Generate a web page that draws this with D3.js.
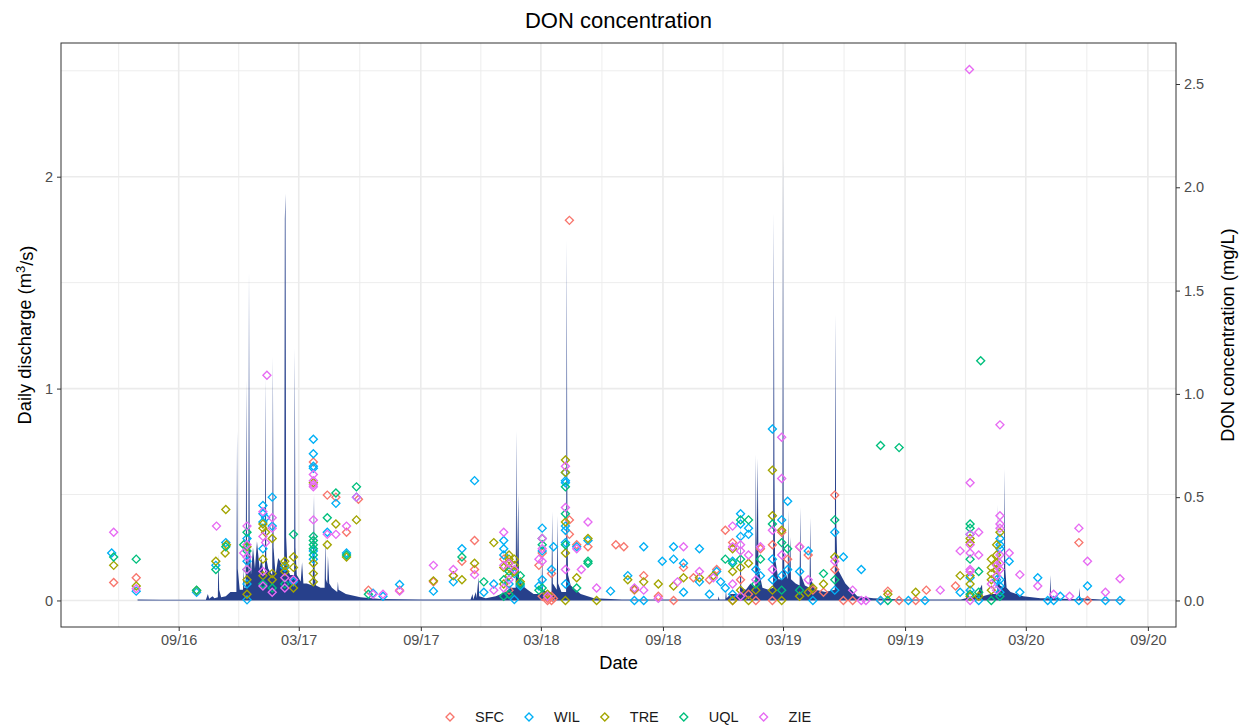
<!DOCTYPE html>
<html>
<head>
<meta charset="utf-8">
<script src="https://cdn.jsdelivr.net/npm/d3@7"></script>
<style>
body { margin: 0; background: #fff; font-family: "Liberation Sans", Arial, Helvetica, sans-serif; }
</style>
</head>
<body>
<div id="chart"></div>
<script>
// daily discharge (m3/s) at its turning points
var discharge = [
  ["2016-07-01", 0.004], ["2016-08-05", 0.003], ["2016-10-12", 0.003], ["2016-10-15", 0.03], ["2016-10-17", 0.008],
  ["2016-10-22", 0.02], ["2016-10-25", 0.01], ["2016-10-30", 0.015], ["2016-10-31", 0.22], ["2016-11-01", 0.05],
  ["2016-11-04", 0.015], ["2016-11-11", 0.02], ["2016-11-18", 0.04], ["2016-11-27", 0.04], ["2016-11-28", 0.80],
  ["2016-11-29", 0.15], ["2016-12-02", 0.05], ["2016-12-07", 0.05], ["2016-12-08", 0.15], ["2016-12-09", 0.06],
  ["2016-12-11", 0.06], ["2016-12-12", 1.04], ["2016-12-13", 0.25], ["2016-12-15", 0.12], ["2016-12-16", 1.55],
  ["2016-12-17", 0.30], ["2016-12-19", 0.12], ["2016-12-22", 0.25], ["2016-12-25", 0.15], ["2016-12-28", 0.28],
  ["2017-01-01", 0.15], ["2017-01-04", 0.20], ["2017-01-07", 0.12], ["2017-01-09", 0.12], ["2017-01-10", 1.05],
  ["2017-01-11", 0.20], ["2017-01-14", 0.15], ["2017-01-20", 0.12], ["2017-01-21", 1.15], ["2017-01-22", 0.25],
  ["2017-01-25", 0.12], ["2017-01-29", 0.20], ["2017-02-07", 0.15], ["2017-02-08", 1.80], ["2017-02-09", 1.92],
  ["2017-02-10", 0.30], ["2017-02-12", 0.15], ["2017-02-16", 0.12], ["2017-02-22", 0.12], ["2017-02-23", 1.19],
  ["2017-02-24", 0.25], ["2017-02-26", 0.12], ["2017-03-04", 0.09], ["2017-03-06", 0.18], ["2017-03-08", 0.08],
  ["2017-03-13", 0.08], ["2017-03-22", 0.07], ["2017-03-24", 0.50], ["2017-03-25", 0.12], ["2017-03-27", 0.07],
  ["2017-04-03", 0.06], ["2017-04-09", 0.06], ["2017-04-10", 0.30], ["2017-04-11", 0.10], ["2017-04-13", 0.08],
  ["2017-04-14", 0.21], ["2017-04-16", 0.08], ["2017-04-20", 0.06], ["2017-04-28", 0.04], ["2017-04-29", 0.09],
  ["2017-04-30", 0.05], ["2017-05-11", 0.03], ["2017-06-02", 0.015], ["2017-07-02", 0.007], ["2017-09-01", 0.004],
  ["2017-11-15", 0.004], ["2017-11-18", 0.03], ["2017-11-19", 0.005], ["2017-11-23", 0.04], ["2017-11-24", 0.01],
  ["2017-11-27", 0.11], ["2017-11-28", 0.02], ["2017-12-08", 0.01], ["2017-12-23", 0.02], ["2018-01-07", 0.04],
  ["2018-01-14", 0.06], ["2018-01-22", 0.06], ["2018-01-23", 0.80], ["2018-01-24", 0.15], ["2018-01-26", 0.50],
  ["2018-01-27", 0.10], ["2018-02-01", 0.07], ["2018-02-09", 0.05], ["2018-02-18", 0.03], ["2018-03-02", 0.03],
  ["2018-03-03", 0.22], ["2018-03-04", 0.05], ["2018-03-10", 0.04], ["2018-03-17", 0.04], ["2018-03-18", 0.42],
  ["2018-03-19", 0.08], ["2018-03-25", 0.05], ["2018-03-26", 0.40], ["2018-03-27", 0.08], ["2018-04-01", 0.04],
  ["2018-04-08", 0.04], ["2018-04-09", 1.70], ["2018-04-10", 0.30], ["2018-04-11", 0.12], ["2018-04-15", 0.07],
  ["2018-04-30", 0.03], ["2018-05-20", 0.01], ["2018-07-01", 0.005], ["2018-10-28", 0.004], ["2018-11-23", 0.004],
  ["2018-11-24", 0.02], ["2018-11-25", 0.005], ["2018-12-04", 0.005], ["2018-12-05", 0.05], ["2018-12-06", 0.01],
  ["2018-12-12", 0.03], ["2018-12-26", 0.03], ["2018-12-27", 0.35], ["2018-12-28", 0.06], ["2019-01-04", 0.05],
  ["2019-01-11", 0.08], ["2019-01-18", 0.06], ["2019-01-19", 0.69], ["2019-01-20", 0.20], ["2019-01-22", 0.67],
  ["2019-01-23", 0.15], ["2019-01-29", 0.06], ["2019-02-07", 0.05], ["2019-02-14", 0.06], ["2019-02-15", 1.83],
  ["2019-02-16", 0.66], ["2019-02-17", 0.20], ["2019-02-22", 0.10], ["2019-02-28", 0.10], ["2019-03-01", 2.09],
  ["2019-03-02", 0.30], ["2019-03-03", 0.15], ["2019-03-08", 0.10], ["2019-03-09", 0.43], ["2019-03-10", 0.12],
  ["2019-03-12", 0.30], ["2019-03-13", 0.10], ["2019-03-20", 0.08], ["2019-03-26", 0.07], ["2019-03-27", 0.44],
  ["2019-03-28", 0.12], ["2019-04-03", 0.07], ["2019-04-10", 0.06], ["2019-04-11", 0.39], ["2019-04-12", 0.10],
  ["2019-04-19", 0.05], ["2019-05-04", 0.04], ["2019-05-18", 0.05], ["2019-05-19", 1.35], ["2019-05-20", 0.40],
  ["2019-05-22", 0.15], ["2019-06-03", 0.08], ["2019-06-21", 0.02], ["2019-07-15", 0.01], ["2019-08-30", 0.005],
  ["2019-11-24", 0.004], ["2019-12-02", 0.01], ["2019-12-05", 0.06], ["2019-12-06", 0.01], ["2019-12-17", 0.02],
  ["2019-12-26", 0.075], ["2019-12-27", 0.02], ["2020-01-08", 0.03], ["2020-01-18", 0.03], ["2020-01-19", 0.45],
  ["2020-01-20", 0.10], ["2020-01-22", 0.07], ["2020-01-28", 0.06], ["2020-01-29", 0.62], ["2020-01-30", 0.15],
  ["2020-02-01", 0.06], ["2020-02-07", 0.04], ["2020-02-26", 0.02], ["2020-03-23", 0.01], ["2020-04-06", 0.01],
  ["2020-04-07", 0.12], ["2020-04-08", 0.02], ["2020-04-22", 0.008], ["2020-05-20", 0.006], ["2020-05-21", 0.06],
  ["2020-05-22", 0.01], ["2020-06-22", 0.005], ["2020-07-29", 0.004]
];

// DON concentration (mg/L) per site: [date, value, value, ...]
var sfc = [
  ["2016-05-26", 0.087], ["2016-06-29", 0.11], ["2017-03-23", 0.67], ["2017-04-13", 0.51], ["2017-04-26", 0.50],
  ["2017-05-12", 0.33], ["2017-05-30", 0.49], ["2017-06-14", 0.05], ["2017-07-31", 0.05], ["2017-09-20", 0.09],
  ["2017-10-20", 0.12], ["2017-11-02", 0.19], ["2017-11-21", 0.29, 0.15], ["2018-01-04", 0.20], ["2018-01-12", 0.05],
  ["2018-02-26", 0.17], ["2018-03-03", 0.23, 0.02], ["2018-03-11", 0.01, 0.0], ["2018-03-17", 0.13, 0.0, 0.02],
  ["2018-03-20", 0.01], ["2018-04-13", 1.84, 0.39, 0.32], ["2018-04-24", 0.27], ["2018-05-11", 0.26],
  ["2018-06-22", 0.27], ["2018-07-04", 0.26], ["2018-07-20", 0.05], ["2018-08-03", 0.12], ["2018-08-25", 0.02],
  ["2018-09-17", 0.0], ["2018-10-02", 0.16], ["2018-10-17", 0.11], ["2018-11-10", 0.10], ["2018-11-21", 0.15],
  ["2018-12-04", 0.34], ["2018-12-15", 0.28, 0.0], ["2018-12-27", 0.10], ["2019-01-08", 0.03], ["2019-01-19", 0.0],
  ["2019-01-26", 0.25], ["2019-02-13", 0.27, 0.0], ["2019-02-27", 0.33], ["2019-03-08", 0.20], ["2019-03-26", 0.26],
  ["2019-04-08", 0.22], ["2019-04-15", 0.05], ["2019-05-01", 0.04], ["2019-05-18", 0.51, 0.15], ["2019-05-31", 0.0],
  ["2019-06-14", 0.0], ["2019-07-26", 0.0], ["2019-08-06", 0.045], ["2019-08-23", 0.0], ["2019-09-17", 0.0],
  ["2019-10-03", 0.05], ["2019-11-16", 0.07], ["2020-05-20", 0.28], ["2020-06-02", 0.0]
];
var wil = [
  ["2016-05-23", 0.23], ["2016-06-29", 0.045], ["2016-09-28", 0.04], ["2016-10-27", 0.17], ["2016-11-11", 0.28],
  ["2016-12-13", 0.30, 0.19, 0.08, 0.003], ["2017-01-06", 0.46, 0.42, 0.38, 0.25], ["2017-01-10", 0.40],
  ["2017-01-20", 0.50, 0.36], ["2017-02-08", 0.16], ["2017-02-21", 0.09], ["2017-03-23", 0.78, 0.71, 0.65, 0.64, 0.24, 0.20],
  ["2017-04-13", 0.33], ["2017-04-26", 0.47], ["2017-05-12", 0.23], ["2017-05-27", 0.50], ["2017-06-21", 0.035],
  ["2017-07-06", 0.02], ["2017-07-31", 0.077], ["2017-09-20", 0.045], ["2017-10-20", 0.09], ["2017-11-02", 0.25],
  ["2017-11-21", 0.58], ["2017-12-05", 0.04], ["2017-12-20", 0.08], ["2018-01-04", 0.29, 0.25, 0.22], ["2018-01-12", 0.08],
  ["2018-01-20", 0.13, 0.005], ["2018-01-29", 0.07], ["2018-02-26", 0.07], ["2018-03-03", 0.35, 0.24, 0.10],
  ["2018-03-17", 0.15], ["2018-03-20", 0.26], ["2018-04-07", 0.62, 0.58, 0.57, 0.36, 0.34, 0.28, 0.08],
  ["2018-04-24", 0.26], ["2018-05-11", 0.29], ["2018-06-14", 0.045], ["2018-07-10", 0.12], ["2018-07-20", 0.0],
  ["2018-08-03", 0.26, 0.0], ["2018-08-31", 0.19], ["2018-09-17", 0.26, 0.20], ["2018-10-02", 0.18, 0.04],
  ["2018-10-26", 0.25, 0.09], ["2018-11-10", 0.03], ["2018-11-21", 0.14], ["2018-11-27", 0.09], ["2018-12-04", 0.06],
  ["2018-12-15", 0.19, 0.03], ["2018-12-27", 0.42, 0.37, 0.31], ["2019-01-08", 0.35, 0.32], ["2019-01-19", 0.15],
  ["2019-01-26", 0.12], ["2019-02-13", 0.83, 0.20, 0.10], ["2019-02-27", 0.39, 0.12], ["2019-03-08", 0.48, 0.15],
  ["2019-03-26", 0.14], ["2019-04-08", 0.24], ["2019-04-15", 0.0], ["2019-05-18", 0.33, 0.05], ["2019-05-31", 0.21],
  ["2019-06-27", 0.15], ["2019-07-26", 0.0], ["2019-09-06", 0.0], ["2019-10-01", 0.0], ["2019-11-23", 0.04],
  ["2019-12-08", 0.32, 0.11, 0.05], ["2019-12-21", 0.0], ["2020-01-17", 0.10], ["2020-01-22", 0.30, 0.27, 0.25, 0.10, 0.07, 0.04],
  ["2020-02-05", 0.19], ["2020-02-21", 0.04], ["2020-03-19", 0.11], ["2020-04-03", 0.0], ["2020-04-12", 0.0],
  ["2020-04-22", 0.02], ["2020-05-20", 0.0], ["2020-06-02", 0.07], ["2020-06-29", 0.0], ["2020-07-21", 0.0]
];
var tre = [
  ["2016-05-26", 0.17], ["2016-06-29", 0.07], ["2016-09-28", 0.048], ["2016-10-27", 0.19], ["2016-11-10", 0.23],
  ["2016-11-11", 0.44], ["2016-11-12", 0.27], ["2016-12-13", 0.26, 0.10, 0.03], ["2017-01-06", 0.37, 0.35, 0.20, 0.12],
  ["2017-01-10", 0.33], ["2017-01-20", 0.30, 0.13, 0.10], ["2017-02-08", 0.19, 0.17, 0.14], ["2017-02-21", 0.21, 0.16, 0.06],
  ["2017-03-23", 0.57, 0.18, 0.13, 0.09], ["2017-04-13", 0.27], ["2017-04-26", 0.37], ["2017-05-12", 0.21],
  ["2017-05-27", 0.39], ["2017-09-20", 0.095], ["2017-10-20", 0.12], ["2017-11-02", 0.10], ["2017-11-21", 0.18],
  ["2017-12-20", 0.28], ["2018-01-04", 0.16, 0.08], ["2018-01-12", 0.22, 0.20, 0.18, 0.16, 0.12], ["2018-01-20", 0.20, 0.17, 0.14],
  ["2018-01-29", 0.09], ["2018-03-11", 0.03], ["2018-04-07", 0.68, 0.62, 0.38, 0.23, 0.0], ["2018-04-24", 0.11],
  ["2018-05-11", 0.30], ["2018-05-24", 0.0], ["2018-07-10", 0.10], ["2018-07-20", 0.055], ["2018-08-03", 0.09],
  ["2018-08-25", 0.08], ["2018-09-17", 0.07], ["2018-10-02", 0.11], ["2018-10-26", 0.11], ["2018-11-16", 0.12],
  ["2018-12-15", 0.25, 0.14, 0.0], ["2018-12-27", 0.16, 0.05], ["2019-01-08", 0.18, 0.0], ["2019-01-19", 0.05],
  ["2019-02-13", 0.63, 0.41, 0.05], ["2019-02-27", 0.34, 0.0], ["2019-03-26", 0.02], ["2019-04-08", 0.04],
  ["2019-04-15", 0.06], ["2019-05-01", 0.08], ["2019-05-18", 0.21], ["2019-08-06", 0.03], ["2019-09-17", 0.04],
  ["2019-11-23", 0.12], ["2019-12-08", 0.30, 0.28, 0.12, 0.08, 0.02], ["2019-12-21", 0.02],
  ["2020-01-09", 0.20, 0.16, 0.13, 0.10, 0.05], ["2020-01-17", 0.27, 0.22, 0.18, 0.15], ["2020-01-22", 0.33]
];
var uql = [
  ["2016-05-26", 0.21], ["2016-06-29", 0.20], ["2016-09-28", 0.05], ["2016-10-27", 0.15], ["2016-11-11", 0.26],
  ["2016-12-08", 0.27], ["2016-12-13", 0.33, 0.24, 0.15], ["2017-01-06", 0.08], ["2017-01-20", 0.06], ["2017-02-08", 0.08],
  ["2017-02-21", 0.32], ["2017-03-23", 0.31, 0.29, 0.27, 0.25, 0.22], ["2017-04-13", 0.40], ["2017-04-26", 0.52],
  ["2017-05-12", 0.22], ["2017-05-27", 0.55], ["2017-06-14", 0.03], ["2017-11-02", 0.21], ["2017-12-05", 0.09],
  ["2018-01-04", 0.10, 0.02], ["2018-01-12", 0.14, 0.03], ["2018-01-29", 0.12, 0.08], ["2018-02-26", 0.05],
  ["2018-03-03", 0.30, 0.27, 0.06], ["2018-04-07", 0.55, 0.42, 0.27], ["2018-04-24", 0.06], ["2018-05-11", 0.19, 0.18],
  ["2018-12-04", 0.20], ["2018-12-15", 0.18], ["2018-12-27", 0.39, 0.20], ["2019-01-08", 0.39], ["2019-01-19", 0.08],
  ["2019-01-26", 0.20], ["2019-02-13", 0.37], ["2019-02-27", 0.28, 0.05], ["2019-03-08", 0.25], ["2019-03-26", 0.05],
  ["2019-05-01", 0.13], ["2019-05-18", 0.39, 0.10], ["2019-07-26", 0.75], ["2019-08-06", 0.0], ["2019-08-23", 0.74],
  ["2019-12-08", 0.37, 0.35, 0.20, 0.03], ["2019-12-21", 0.14, 0.04], ["2019-12-24", 1.16], ["2020-01-09", 0.0],
  ["2020-01-22", 0.02]
];
var zie = [
  ["2016-05-26", 0.33], ["2016-06-29", 0.057], ["2016-10-28", 0.36], ["2016-12-08", 0.23], ["2016-12-13", 0.36, 0.27, 0.21, 0.15],
  ["2017-01-06", 0.43, 0.31, 0.14, 0.07], ["2017-01-10", 0.28], ["2017-01-12", 1.09], ["2017-01-20", 0.40, 0.35, 0.04],
  ["2017-02-08", 0.11, 0.06], ["2017-02-21", 0.10], ["2017-03-23", 0.61, 0.58, 0.56, 0.55, 0.39], ["2017-04-13", 0.32],
  ["2017-04-26", 0.32], ["2017-05-12", 0.36], ["2017-05-27", 0.50], ["2017-06-21", 0.03], ["2017-07-06", 0.03],
  ["2017-07-31", 0.045], ["2017-09-20", 0.17], ["2017-10-20", 0.15], ["2017-11-21", 0.125], ["2017-12-20", 0.05],
  ["2018-01-04", 0.33, 0.17, 0.06], ["2018-01-12", 0.18, 0.10], ["2018-01-20", 0.15], ["2018-02-26", 0.20],
  ["2018-03-03", 0.30, 0.25, 0.19], ["2018-03-11", 0.02], ["2018-04-07", 0.65, 0.45, 0.15], ["2018-04-24", 0.25],
  ["2018-05-01", 0.15], ["2018-05-11", 0.38], ["2018-05-24", 0.06], ["2018-07-20", 0.06], ["2018-08-03", 0.05],
  ["2018-08-25", 0.01], ["2018-09-23", 0.09], ["2018-10-02", 0.26], ["2018-10-26", 0.14], ["2018-11-16", 0.11],
  ["2018-12-15", 0.36, 0.26, 0.08], ["2018-12-27", 0.27, 0.24, 0.02], ["2019-01-08", 0.22], ["2019-01-19", 0.10],
  ["2019-01-26", 0.26], ["2019-02-13", 0.34, 0.15], ["2019-02-27", 0.79, 0.59, 0.22], ["2019-03-26", 0.26],
  ["2019-04-08", 0.10], ["2019-05-18", 0.19], ["2019-06-14", 0.05], ["2019-06-27", 0.0], ["2019-07-04", 0.0],
  ["2019-10-24", 0.05], ["2019-11-23", 0.24], ["2019-12-07", 2.57], ["2019-12-08", 0.57, 0.32, 0.27, 0.23, 0.15, 0.14, 0.0],
  ["2019-12-21", 0.33, 0.22], ["2020-01-09", 0.08], ["2020-01-17", 0.17, 0.12, 0.05],
  ["2020-01-22", 0.85, 0.41, 0.37, 0.35, 0.22, 0.18, 0.15], ["2020-02-05", 0.23], ["2020-02-21", 0.125],
  ["2020-03-19", 0.07], ["2020-04-12", 0.03], ["2020-05-06", 0.02], ["2020-05-20", 0.35], ["2020-06-02", 0.19],
  ["2020-06-29", 0.04], ["2020-07-21", 0.105]
];

var siteNames = ["SFC", "WIL", "TRE", "UQL", "ZIE"];
var siteData = [sfc, wil, tre, uql, zie];
var siteColors = ["#F8766D", "#00B0F6", "#A3A500", "#00BF7D", "#E76BF3"];

var xTickDates = ["2016-09-01", "2017-03-01", "2017-09-01", "2018-03-01", "2018-09-01",
                  "2019-03-01", "2019-09-01", "2020-03-01", "2020-09-01"];
var yLeftTicks = [0, 1, 2];
var yLeftMinor = [0.5, 1.5, 2.5];
var yRightTicks = [0, 0.5, 1, 1.5, 2, 2.5];
var donScale = 0.975; // DON is drawn on the discharge axis multiplied by this

var parse = d3.timeParse("%Y-%m-%d");
var W = 1246, H = 725;
var margin = {top: 43, right: 70, bottom: 98, left: 61};
var width = W - margin.left - margin.right, height = H - margin.top - margin.bottom;

var flow = discharge.map(d => ({date: parse(d[0]), q: d[1]}));
var points = [];
siteData.forEach((rows, i) => {
    rows.forEach(r => {
        r.slice(1).forEach(v => points.push({site: siteNames[i], color: siteColors[i], date: parse(r[0]), don: v}));
    });
});

// ggplot style 5% expansion
var dates = flow.map(d => d.date).concat(points.map(d => d.date));
var dExt = d3.extent(dates);
var dPad = (dExt[1] - dExt[0]) * 0.05;
var x = d3.scaleTime()
    .domain([new Date(+dExt[0] - dPad), new Date(+dExt[1] + dPad)])
    .range([0, width]);

var yMax = Math.max(d3.max(flow, d => d.q), d3.max(points, d => d.don) * donScale);
var yL = d3.scaleLinear().domain([-yMax * 0.05, yMax * 1.05]).range([height, 0]);
var yR = d3.scaleLinear().domain(yL.domain().map(v => v / donScale)).range([height, 0]);

var svg = d3.select("#chart").append("svg")
    .attr("width", W)
    .attr("height", H)
    .style("font-family", "'Liberation Sans', Arial, Helvetica, sans-serif");

svg.append("rect").attr("width", W).attr("height", H).attr("fill", "#fff");

var g = svg.append("g")
    .attr("transform", "translate(" + margin.left + "," + margin.top + ")");

g.append("clipPath").attr("id", "panel-clip")
    .append("rect").attr("width", width).attr("height", height);

// grid
var majorX = xTickDates.map(parse);
var minorX = [];
var step = majorX[1] - majorX[0];
minorX.push(new Date(+majorX[0] - step / 2));
for (var i = 0; i < majorX.length - 1; i++) minorX.push(new Date((+majorX[i] + +majorX[i + 1]) / 2));
minorX.push(new Date(+majorX[majorX.length - 1] + step / 2));
minorX = minorX.filter(d => x(d) > 0 && x(d) < width);

var grid = g.append("g").attr("clip-path", "url(#panel-clip)");
grid.selectAll(".minor-y").data(yLeftMinor).enter().append("line")
    .attr("x1", 0).attr("x2", width)
    .attr("y1", d => yL(d)).attr("y2", d => yL(d))
    .attr("stroke", "#ebebeb").attr("stroke-width", 0.9);
grid.selectAll(".minor-x").data(minorX).enter().append("line")
    .attr("y1", 0).attr("y2", height)
    .attr("x1", d => x(d)).attr("x2", d => x(d))
    .attr("stroke", "#ebebeb").attr("stroke-width", 0.9);
grid.selectAll(".major-y").data(yLeftTicks).enter().append("line")
    .attr("x1", 0).attr("x2", width)
    .attr("y1", d => yL(d)).attr("y2", d => yL(d))
    .attr("stroke", "#ebebeb").attr("stroke-width", 1.6);
grid.selectAll(".major-x").data(majorX).enter().append("line")
    .attr("y1", 0).attr("y2", height)
    .attr("x1", d => x(d)).attr("x2", d => x(d))
    .attr("stroke", "#ebebeb").attr("stroke-width", 1.6);

// discharge area
var area = d3.area()
    .x(d => x(d.date))
    .y0(yL(0))
    .y1(d => yL(d.q));

g.append("path")
    .datum(flow)
    .attr("clip-path", "url(#panel-clip)")
    .attr("fill", "#27408B")
    .attr("d", area);

// DON points, open diamonds
var diamond = d3.symbol().type(d3.symbolSquare).size(32);
g.append("g").attr("clip-path", "url(#panel-clip)")
    .selectAll("path")
    .data(points)
    .enter().append("path")
    .attr("d", diamond)
    .attr("transform", d => "translate(" + x(d.date) + "," + yR(d.don) + ") rotate(45)")
    .attr("fill", "none")
    .attr("stroke", d => d.color)
    .attr("stroke-width", 1.35);

// panel border
g.append("rect")
    .attr("width", width).attr("height", height)
    .attr("fill", "none").attr("stroke", "#333").attr("stroke-width", 1);

// axes
var tickColor = "#4d4d4d";
var xAxis = g.append("g")
    .attr("transform", "translate(0," + height + ")")
    .call(d3.axisBottom(x).tickValues(majorX).tickFormat(d3.timeFormat("%m/%y")).tickSize(4).tickPadding(4));
var yAxisL = g.append("g")
    .call(d3.axisLeft(yL).tickValues(yLeftTicks).tickFormat(d3.format("d")).tickSize(4).tickPadding(4));
var yAxisR = g.append("g")
    .attr("transform", "translate(" + width + ",0)")
    .call(d3.axisRight(yR).tickValues(yRightTicks).tickFormat(d3.format(".1f")).tickSize(4).tickPadding(4));

[xAxis, yAxisL, yAxisR].forEach(a => {
    a.select(".domain").remove();
    a.selectAll(".tick line").attr("stroke", "#333").attr("stroke-width", 1);
    a.selectAll(".tick text").attr("fill", tickColor).style("font-size", "14.5px")
        .style("font-family", "'Liberation Sans', Arial, sans-serif");
});

// titles
svg.append("text")
    .attr("x", margin.left + width / 2).attr("y", 28)
    .attr("text-anchor", "middle")
    .style("font-size", "22px")
    .text("DON concentration");

svg.append("text")
    .attr("x", margin.left + width / 2).attr("y", 669)
    .attr("text-anchor", "middle")
    .style("font-size", "18.3px")
    .text("Date");

var yTitle = svg.append("text")
    .attr("transform", "translate(31," + (margin.top + height / 2) + ") rotate(-90)")
    .attr("text-anchor", "middle")
    .style("font-size", "18.3px");
yTitle.append("tspan").text("Daily discharge (m");
yTitle.append("tspan").attr("dy", "-0.45em").style("font-size", "13px").text("3");
yTitle.append("tspan").attr("dy", "0.45em").text("/s)");

svg.append("text")
    .attr("transform", "translate(1234," + (margin.top + height / 2) + ") rotate(-90)")
    .attr("text-anchor", "middle")
    .style("font-size", "18.3px")
    .text("DON concentration (mg/L)");

// legend
var legend = svg.append("g").attr("transform", "translate(450,717)");
var lx = 0;
siteNames.forEach((name, i) => {
    var item = legend.append("g").attr("transform", "translate(" + lx + ",0)");
    item.append("path")
        .attr("d", diamond)
        .attr("transform", "rotate(45)")
        .attr("fill", "none")
        .attr("stroke", siteColors[i])
        .attr("stroke-width", 1.35);
    var t = item.append("text")
        .attr("x", 25).attr("dy", "0.36em")
        .style("font-size", "14.5px")
        .attr("fill", "#1a1a1a")
        .text(name);
    lx += 25 + t.node().getComputedTextLength() + 25;
});
</script>
</body>
</html>
